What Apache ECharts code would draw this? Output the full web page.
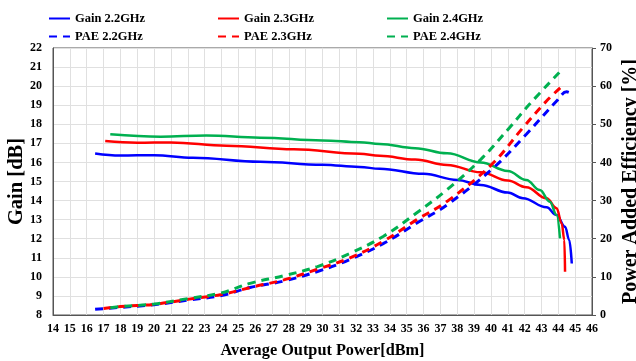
<!DOCTYPE html>
<html>
<head>
<meta charset="utf-8">
<script src="https://cdn.jsdelivr.net/npm/echarts@6/dist/echarts.min.js"></script>
<style>html,body{margin:0;padding:0;background:#fff}#c{width:636px;height:361px}</style>
</head>
<body>
<div id="c"></div>
<script>
// Gain curves (left axis, dB)
const gain22X = [16.5, 18, 20, 22.3, 26.3, 30, 32.2, 33.4, 36, 38, 39.4, 41, 41.9, 43.3, 43.9, 44.4, 44.65, 44.8];
const gain22Y = [16.47, 16.36, 16.38, 16.25, 16.04, 15.88, 15.76, 15.67, 15.4, 15.08, 14.82, 14.42, 14.12, 13.65, 13.24, 12.63, 11.93, 10.7];
const gain23X = [17.1, 19, 21, 24.3, 28.3, 32.2, 33.4, 35.5, 37.4, 39.4, 41, 42.1, 43.3, 43.9, 44.2, 44.36, 44.4];
const gain23Y = [17.12, 17.03, 17.05, 16.88, 16.69, 16.46, 16.35, 16.15, 15.87, 15.48, 15.05, 14.7, 14.12, 13.6, 12.8, 11.93, 10.27];
const gain24X = [17.4, 20.4, 23.1, 26.3, 30, 32.2, 33.4, 35.5, 37.4, 39.4, 41, 42.1, 42.9, 43.5, 43.9, 44.1];
const gain24Y = [17.48, 17.35, 17.41, 17.3, 17.15, 17.06, 16.97, 16.75, 16.48, 16.0, 15.55, 15.08, 14.55, 13.94, 13.24, 12.02];
// PAE curves (right axis, %)
const pae22X = [16.5, 18, 20, 22, 24, 25.7, 27.7, 29.7, 31.6, 33.6, 35.6, 37.4, 40.15, 42.1, 43.9, 44.5, 44.75];
const pae22Y = [1.5, 2.0, 2.7, 3.9, 5.1, 7.2, 8.9, 11.4, 14.5, 18.7, 24.1, 28.9, 38.6, 47.4, 56.1, 58.5, 58.1];
const pae23X = [17, 18, 20, 22, 24, 26, 27.7, 29.7, 31.6, 33.6, 35.6, 37.4, 40.05, 41.9, 43.3, 44.2];
const pae23Y = [1.7, 2.2, 2.8, 4.1, 5.4, 7.5, 9.2, 12.0, 14.9, 19.3, 25.0, 29.8, 39.5, 49.1, 56.1, 59.9];
const pae24X = [17.4, 18, 20, 22, 24, 25.7, 27.7, 29.7, 31.6, 33.6, 35.6, 37.4, 39.4, 41.1, 42.3, 44.1];
const pae24Y = [1.9, 2.2, 2.9, 4.3, 5.8, 8.3, 10.3, 12.7, 16.1, 20.6, 26.8, 32.9, 40.8, 49.1, 55.3, 63.8];
const xTicks = {min: 14, max: 46, step: 1};
const gainTicks = {min: 8, max: 22, step: 1};
const paeTicks = {min: 0, max: 70, step: 10};
const names = ['Gain 2.2GHz', 'Gain 2.3GHz', 'Gain 2.4GHz', 'PAE 2.2GHz', 'PAE 2.3GHz', 'PAE 2.4GHz'];
const colors = ['#0000ff', '#ff0000', '#00b050'];

const zip = (xs, ys) => xs.map((x, i) => [x, ys[i]]);
const font = 'Liberation Serif, Times New Roman, serif';
const gainSets = [[gain22X, gain22Y], [gain23X, gain23Y], [gain24X, gain24Y]];
const paeSets = [[pae22X, pae22Y], [pae23X, pae23Y], [pae24X, pae24Y]];
const series = [];
gainSets.forEach((s, i) => series.push({
  name: names[i], type: 'line', yAxisIndex: 0, data: zip(s[0], s[1]), symbol: 'none',
  smooth: 0.4, smoothMonotone: 'x', lineStyle: {color: colors[i], width: 2.5}, itemStyle: {color: colors[i]}, z: 3
}));
paeSets.forEach((s, i) => series.push({
  name: names[i + 3], type: 'line', yAxisIndex: 1, data: zip(s[0], s[1]), symbol: 'none',
  smooth: 0.4, lineStyle: {color: colors[i], width: 3, type: [8, 6]}, itemStyle: {color: colors[i]}, z: 3
}));
const legendCols = [48, 217, 386].map((left, i) => ({
  left: left, top: 12, padding: 0, orient: 'vertical', itemGap: 5, itemWidth: 21, itemHeight: 14,
  data: [names[i], names[i + 3]],
  itemStyle: {color: 'rgba(0,0,0,0)', borderColor: 'rgba(0,0,0,0)', borderWidth: 0},
  textStyle: {fontFamily: font, fontWeight: 'bold', fontSize: 12.5, color: '#000'}
}));
const labelStyle = {fontFamily: font, fontWeight: 'bold', fontSize: 12, color: '#000'};
const chart = echarts.init(document.getElementById('c'));
chart.setOption({
  animation: false,
  backgroundColor: '#fff',
  legend: legendCols,
  grid: {left: 53, right: 44, top: 48, bottom: 46, containLabel: false, outerBoundsMode: 'none',
         show: true, borderColor: '#555', borderWidth: 1},
  xAxis: {
    type: 'value', min: xTicks.min, max: xTicks.max, interval: xTicks.step,
    name: 'Average Output Power[dBm]', nameLocation: 'middle', nameGap: 28, nameMoveOverlap: false,
    nameTextStyle: {fontFamily: font, fontWeight: 'bold', fontSize: 16.3, color: '#000'},
    axisLine: {lineStyle: {color: '#555'}}, axisTick: {show: false},
    axisLabel: Object.assign({margin: 8}, labelStyle),
    splitLine: {lineStyle: {color: '#e0e0e0'}}
  },
  yAxis: [{
    type: 'value', min: gainTicks.min, max: gainTicks.max, interval: gainTicks.step,
    name: 'Gain [dB]', nameLocation: 'middle', nameGap: 26, nameMoveOverlap: false,
    nameTextStyle: {fontFamily: font, fontWeight: 'bold', fontSize: 20.5, color: '#000'},
    axisLine: {show: true, lineStyle: {color: '#555'}}, axisTick: {show: false},
    axisLabel: Object.assign({margin: 11}, labelStyle),
    splitLine: {lineStyle: {color: '#e0e0e0'}}
  }, {
    type: 'value', min: paeTicks.min, max: paeTicks.max, interval: paeTicks.step, position: 'right',
    name: 'Power Added Efficiency [%]', nameLocation: 'middle', nameGap: 29, nameMoveOverlap: false,
    nameTextStyle: {fontFamily: font, fontWeight: 'bold', fontSize: 20, color: '#000'},
    axisLine: {show: true, lineStyle: {color: '#555'}},
    axisTick: {show: true, length: 4, inside: false, lineStyle: {color: '#555'}},
    axisLabel: Object.assign({margin: 8}, labelStyle),
    splitLine: {show: false}
  }],
  series: series
});
</script>
</body>
</html>
